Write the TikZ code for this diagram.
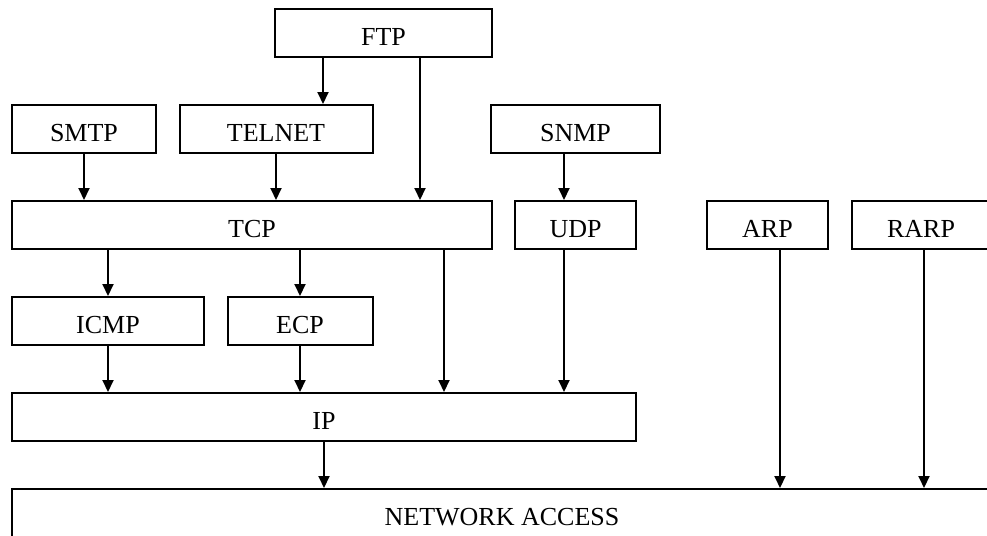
\documentclass[tikz,border=0pt]{standalone}
\usepackage{fontspec}
\setmainfont{Liberation Serif}
\usetikzlibrary{arrows.meta}

\begin{document}
\begin{tikzpicture}[> = {Triangle[length = 12pt, width = 11pt]}, x = 1pt, y = -1pt,
	layer/.style = {draw, line width = 2pt, inner sep = 0pt, minimum height = 48pt,
		text height = 25pt, text depth = 0pt, font = \fontsize{26}{30}\selectfont},
	link/.style = {->, line width = 2pt}]

	% Definitions

	\def\rowApp{129}	% Application protocols
	\def\rowTrans{225}	% Transport protocols
	\def\rowCtrl{321}	% Control protocols
	\def\rowNet{417}	% Internet layer
	\def\rowAccess{513}	% Network access layer

	% Frame

	\useasboundingbox (0, 0) rectangle (987, 535);
	\clip (0, 0) rectangle (987, 535);

	% Protocol boxes

	\node [layer, minimum width = 217pt] (ftp) at (383.5, 33) {FTP};
	\node [layer, minimum width = 144pt] (smtp) at (84, \rowApp) {SMTP};
	\node [layer, minimum width = 193pt] (telnet) at (276, \rowApp) {TELNET};
	\node [layer, minimum width = 169pt] (snmp) at (575.5, \rowApp) {SNMP};

	\node [layer, minimum width = 480pt] (tcp) at (252, \rowTrans) {TCP};
	\node [layer, minimum width = 121pt] (udp) at (575.5, \rowTrans) {UDP};
	\node [layer, minimum width = 121pt] (arp) at (767.5, \rowTrans) {ARP};
	\node [layer, minimum width = 138pt] (rarp) at (921, \rowTrans) {RARP};

	\node [layer, minimum width = 192pt] (icmp) at (108, \rowCtrl) {ICMP};
	\node [layer, minimum width = 145pt] (ecp) at (300, \rowCtrl) {ECP};

	\node [layer, minimum width = 624pt] (ip) at (324, \rowNet) {IP};

	\node [layer, minimum width = 980pt] (access) at (502, \rowAccess) {NETWORK ACCESS};

	% Columns of the off-centre links

	\coordinate (ftpLeft) at (323, 0);
	\coordinate (ftpRight) at (420, 0);
	\coordinate (tcpRight) at (444, 0);
	\coordinate (udpCol) at (564, 0);
	\coordinate (arpCol) at (780, 0);
	\coordinate (rarpCol) at (924, 0);

	% Links

	\draw [link] (ftp.south -| ftpLeft) -- (telnet.north -| ftpLeft);
	\draw [link] (ftp.south -| ftpRight) -- (tcp.north -| ftpRight);
	\draw [link] (smtp) -- (smtp.south |- tcp.north);
	\draw [link] (telnet) -- (telnet.south |- tcp.north);
	\draw [link] (snmp.south -| udpCol) -- (udp.north -| udpCol);

	\draw [link] (tcp.south -| icmp.north) -- (icmp.north);
	\draw [link] (tcp.south -| ecp.north) -- (ecp.north);
	\draw [link] (tcp.south -| tcpRight) -- (ip.north -| tcpRight);
	\draw [link] (icmp.south) -- (icmp.south |- ip.north);
	\draw [link] (ecp.south) -- (ecp.south |- ip.north);
	\draw [link] (udp.south -| udpCol) -- (ip.north -| udpCol);

	\draw [link] (ip.south) -- (ip.south |- access.north);
	\draw [link] (arp.south -| arpCol) -- (access.north -| arpCol);
	\draw [link] (rarp.south -| rarpCol) -- (access.north -| rarpCol);

\end{tikzpicture}
\end{document}
